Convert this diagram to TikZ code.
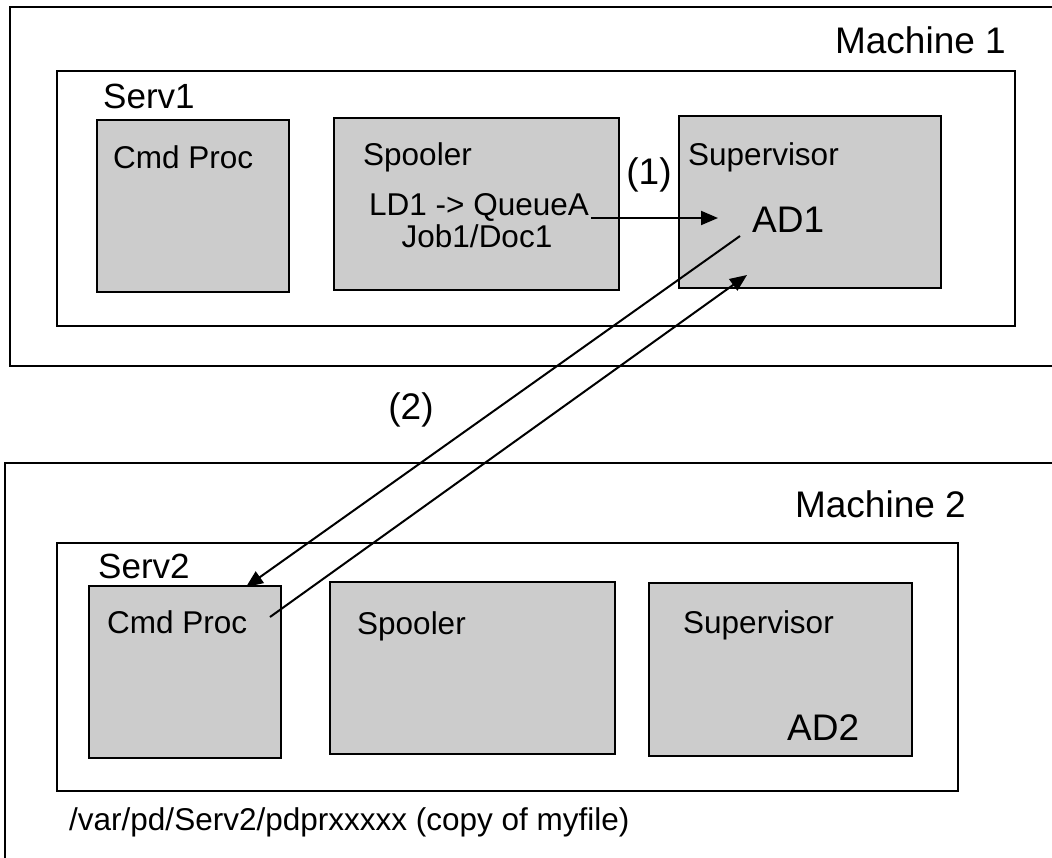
\documentclass[tikz,border=0pt]{standalone}
\usepackage{fontspec}
\setmainfont{Liberation Sans}
\usepackage{tikz}
\usetikzlibrary{arrows.meta}
\definecolor{boxgray}{HTML}{CCCCCC}
\tikzstyle{frame} = [rectangle, draw=black, line width=2.6pt, inner sep=0pt]
\tikzstyle{proc} = [frame, fill=boxgray]
\tikzstyle{lbl} = [inner sep=0pt, anchor=base west, font=\fontsize{31.5}{36}\selectfont]
\tikzstyle{big} = [inner sep=0pt, font=\fontsize{37}{42}\selectfont]
\tikzstyle{msg} = [line width=2pt, -{Triangle[length=17pt,width=14pt]}]

\begin{document}
\begin{tikzpicture}[x=1pt,y=-1pt]
			\useasboundingbox (0,0) rectangle (1052,857);
			\clip (0,0) rectangle (1052,857);
			\node[frame, minimum width=1052, minimum height=359](m1) at (536,186.5){};
			\node[frame, minimum width=958, minimum height=255](s1) at (536,198.5){};
			\node[proc, minimum width=192, minimum height=172](cp1) at (193,206){};
			\node[proc, minimum width=285, minimum height=172](sp1) at (476.5,204){};
			\node[proc, minimum width=262, minimum height=172](sv1) at (810,202){};
			\node[frame, minimum width=1057, minimum height=407](m2) at (533.5,666.5){};
			\node[frame, minimum width=901, minimum height=248](s2) at (507.5,667){};
			\node[proc, minimum width=192, minimum height=172](cp2) at (185,672){};
			\node[proc, minimum width=285, minimum height=172](sp2) at (472.5,668){};
			\node[proc, minimum width=263, minimum height=173](sv2) at (780.5,669.5){};
			\node[big, anchor=base east](m1lbl) at (1006,53){Machine 1};
			\node[big, anchor=base east](m2lbl) at (966,517){Machine 2};
			\node[lbl, font=\fontsize{35}{40}\selectfont](s1lbl) at (103,108){Serv1};
			\node[lbl, font=\fontsize{35}{40}\selectfont](s2lbl) at (98,578){Serv2};
			\node[lbl](cp1lbl) at (113,168){Cmd Proc};
			\node[lbl](sp1lbl) at (363,165){Spooler};
			\node[lbl](sv1lbl) at (688,165){Supervisor};
			\node[lbl, anchor=base](ld1) at (479,215){LD1 -> QueueA};
			\node[lbl, anchor=base](job1) at (477,247){Job1/Doc1};
			\node[big, anchor=base west](ad1) at (752,232){AD1};
			\node[lbl](cp2lbl) at (107,633){Cmd Proc};
			\node[lbl](sp2lbl) at (357,634){Spooler};
			\node[lbl](sv2lbl) at (683,633){Supervisor};
			\node[big, anchor=base west](ad2) at (787,740){AD2};
			\node[lbl](path) at (69,830){/var/pd/Serv2/pdprxxxxx (copy of myfile)};
			\node[big, anchor=base](one) at (649,184){(1)};
			\node[big, anchor=base](two) at (411,419){(2)};
			\coordinate (q1) at (591,218);
			\coordinate (q2) at (718,218);
			\coordinate (r1) at (740,236);
			\coordinate (r2) at (246,587);
			\coordinate (t1) at (270,617);
			\coordinate (t2) at (747,275);
			\draw[msg] (q1)--(q2);
			\draw[msg] (r1)--(r2);
			\draw[msg] (t1)--(t2);
		\end{tikzpicture}
\end{document}
